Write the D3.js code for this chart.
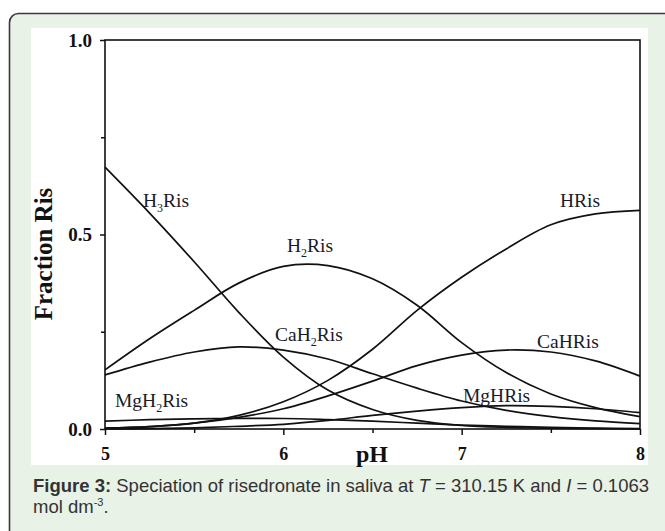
<!DOCTYPE html>
<html>
<head>
<meta charset="utf-8">
<script src="https://cdn.jsdelivr.net/npm/d3@7"></script>
<style>
  html, body { margin: 0; padding: 0; background: #fff; }
  svg { display: block; }
</style>
</head>
<body>
<svg id="chart" width="665" height="531"></svg>
<script>
// pH grid shared by all species
var pH = [5.0, 5.25, 5.5, 5.75, 6.0, 6.25, 6.5, 6.75, 7.0, 7.25, 7.5, 7.75, 8.0];

// fraction of Ris per species
var H3Ris   = [0.673, 0.555, 0.430, 0.300, 0.185, 0.100, 0.050, 0.022, 0.009, 0.004, 0.002, 0.001, 0.000];
var H2Ris   = [0.152, 0.232, 0.305, 0.375, 0.418, 0.420, 0.386, 0.318, 0.222, 0.145, 0.090, 0.055, 0.032];
var HRis    = [0.002, 0.006, 0.015, 0.035, 0.070, 0.125, 0.205, 0.305, 0.390, 0.463, 0.525, 0.553, 0.562];
var CaH2Ris = [0.139, 0.172, 0.198, 0.211, 0.203, 0.180, 0.142, 0.105, 0.072, 0.048, 0.032, 0.021, 0.014];
var CaHRis  = [0.002, 0.006, 0.015, 0.030, 0.052, 0.085, 0.123, 0.163, 0.190, 0.203, 0.198, 0.175, 0.136];
var MgH2Ris = [0.020, 0.024, 0.026, 0.027, 0.027, 0.024, 0.020, 0.015, 0.010, 0.007, 0.004, 0.002, 0.001];
var MgHRis  = [0.000, 0.001, 0.003, 0.007, 0.012, 0.022, 0.035, 0.046, 0.055, 0.060, 0.058, 0.052, 0.042];

var xMajor = [5, 6, 7, 8];
var xMinor = [5.5, 6.5, 7.5];
var yMajor = [0, 0.5, 1.0];
var yMinor = [0.25, 0.75];

var species = [
  { id: "H3Ris",   sub: "3", values: H3Ris,   lx: 143, ly: 207 },
  { id: "H2Ris",   sub: "2", values: H2Ris,   lx: 287, ly: 252 },
  { id: "HRis",    sub: null, values: HRis,   lx: 560, ly: 207 },
  { id: "CaH2Ris", sub: "2", values: CaH2Ris, lx: 275, ly: 341 },
  { id: "CaHRis",  sub: null, values: CaHRis, lx: 537, ly: 348 },
  { id: "MgH2Ris", sub: "2", values: MgH2Ris, lx: 115, ly: 407 },
  { id: "MgHRis",  sub: null, values: MgHRis, lx: 463, ly: 402 }
];

var svg = d3.select("#chart");
var serif = "'Liberation Serif', 'Times New Roman', serif";
var sans = "'Liberation Sans', Arial, sans-serif";

// page frame
svg.append("rect")
  .attr("x", 9.5).attr("y", 13.5)
  .attr("width", 700).attr("height", 560)
  .attr("rx", 9)
  .attr("fill", "#e8f2e6")
  .attr("stroke", "#3a3a3a")
  .attr("stroke-width", 1.6);
svg.append("rect")
  .attr("x", 31).attr("y", 28)
  .attr("width", 617).attr("height", 437)
  .attr("fill", "#fff");

var margin = { left: 105, top: 40, right: 640, bottom: 429 };
var x = d3.scaleLinear().domain([5, 8]).range([margin.left, margin.right]);
var y = d3.scaleLinear().domain([0, 1]).range([margin.bottom, margin.top]);

var g = svg.append("g");

// curves
var line = d3.line()
  .curve(d3.curveCatmullRom.alpha(0.5))
  .x(function (d) { return x(d[0]); })
  .y(function (d) { return y(Math.max(0, d[1])); });

g.selectAll(".species")
  .data(species)
  .enter().append("path")
  .attr("class", "species")
  .attr("fill", "none")
  .attr("stroke", "#111")
  .attr("stroke-width", 1.7)
  .attr("d", function (s) { return line(pH.map(function (p, i) { return [p, s.values[i]]; })); });

// frame
g.append("rect")
  .attr("x", x(5)).attr("y", y(1))
  .attr("width", x(8) - x(5)).attr("height", y(0) - y(1))
  .attr("fill", "none")
  .attr("stroke", "#111")
  .attr("stroke-width", 1.6);

// axes
function styleAxis(size) {
  return function (sel) {
    sel.select(".domain").remove();
    sel.selectAll(".tick line").attr("stroke", "#111").attr("stroke-width", 1.5);
    sel.selectAll(".tick text")
      .attr("fill", "#111")
      .style("font-family", serif)
      .style("font-weight", "bold")
      .style("font-size", size);
  };
}

g.append("g")
  .attr("transform", "translate(0," + y(0) + ")")
  .call(d3.axisBottom(x).tickValues(xMajor).tickSize(6).tickPadding(12).tickFormat(d3.format("d")))
  .call(styleAxis("18px"));
g.append("g")
  .attr("transform", "translate(0," + y(0) + ")")
  .call(d3.axisBottom(x).tickValues(xMinor).tickSize(4).tickFormat(""))
  .call(styleAxis("18px"));
g.append("g")
  .attr("transform", "translate(" + x(5) + ",0)")
  .call(d3.axisLeft(y).tickValues(yMajor).tickSize(5).tickPadding(8).tickFormat(d3.format(".1f")))
  .call(styleAxis("19px"));
g.append("g")
  .attr("transform", "translate(" + x(5) + ",0)")
  .call(d3.axisLeft(y).tickValues(yMinor).tickSize(4).tickFormat(""))
  .call(styleAxis("19px"));

// axis titles
svg.append("text")
  .attr("x", 372).attr("y", 462)
  .attr("text-anchor", "middle")
  .style("font-family", serif).style("font-weight", "bold").style("font-size", "24px")
  .attr("fill", "#111")
  .text("pH");
svg.append("text")
  .attr("transform", "translate(52,254) rotate(-90)")
  .attr("text-anchor", "middle")
  .style("font-family", serif).style("font-weight", "bold").style("font-size", "25px")
  .attr("fill", "#111")
  .text("Fraction Ris");

// species labels
species.forEach(function (s) {
  var t = svg.append("text")
    .attr("x", s.lx).attr("y", s.ly)
    .style("font-family", serif).style("font-size", "19.5px")
    .attr("fill", "#1a1a2a");
  if (s.sub) {
    var k = s.id.indexOf(s.sub);
    t.append("tspan").text(s.id.slice(0, k));
    t.append("tspan").attr("dy", 5).style("font-size", "12px").text(s.sub);
    t.append("tspan").attr("dy", -5).text(s.id.slice(k + 1));
  } else {
    t.text(s.id);
  }
});

// caption
var cap = svg.append("text")
  .attr("x", 33).attr("y", 492)
  .style("font-family", sans).style("font-size", "18.5px")
  .attr("fill", "#333");
cap.append("tspan").style("font-weight", "bold").text("Figure 3:");
cap.append("tspan").text(" Speciation of risedronate in saliva at ");
cap.append("tspan").style("font-style", "italic").text("T");
cap.append("tspan").text(" = 310.15 K and ");
cap.append("tspan").style("font-style", "italic").text("I");
cap.append("tspan").text(" = 0.1063");
var cap2 = svg.append("text")
  .attr("x", 33).attr("y", 513)
  .style("font-family", sans).style("font-size", "18.5px")
  .attr("fill", "#333");
cap2.append("tspan").text("mol dm");
cap2.append("tspan").attr("dy", -7).style("font-size", "11px").text("-3");
cap2.append("tspan").attr("dy", 7).text(".");
</script>
</body>
</html>
